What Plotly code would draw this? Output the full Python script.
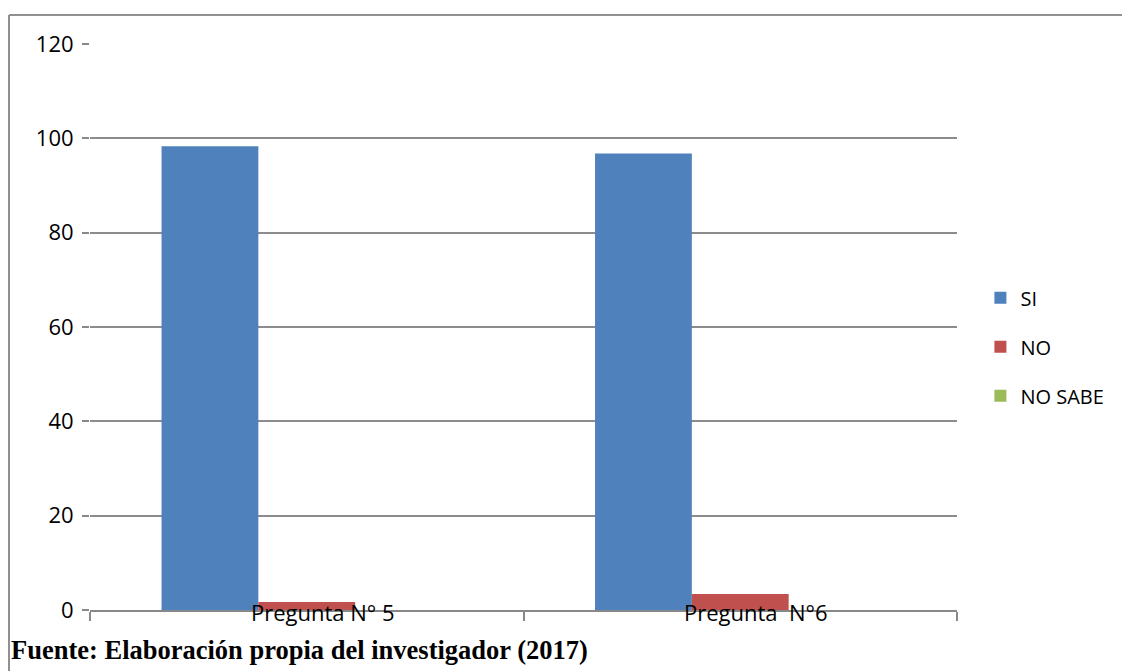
import plotly.graph_objects as go

categories = ["Pregunta N° 5", "Pregunta  N°6"]
series_names = ["SI", "NO", "NO SABE"]
si_values = [98.3, 96.8]
no_values = [1.7, 3.4]
nosabe_values = [0, 0]
colors = ["#4F81BD", "#C0504D", "#9BBB59"]
y_ticks = [0, 20, 40, 60, 80, 100, 120]
footer = "Fuente: Elaboración propia del investigador (2017)"

# page body has an 8px default margin; compensate in the figure size/margins
W, H = 1122, 663
L, T, PW, PH = 82, 36, 867, 566

x_idx = list(range(len(categories)))
fig = go.Figure()
for name, vals, col in zip(series_names, [si_values, no_values, nosabe_values], colors):
    fig.add_trace(go.Bar(x=x_idx, y=vals, name=name, legendgroup=name,
                         marker=dict(color=col, line=dict(width=0))))

for i, c in enumerate(categories):
    fig.add_annotation(x=i, y=0, xref="x", yref="y", text=c, showarrow=False,
                       xanchor="center", yanchor="middle", xshift=16, yshift=-2,
                       font=dict(family="Open Sans", size=22, color="#000000"))

fig.add_annotation(x=-(L - 1) / PW, y=-40 / PH, xref="paper", yref="paper",
                   xanchor="left", yanchor="middle",
                   text="<b>" + footer + "</b>", showarrow=False,
                   font=dict(family="Liberation Serif", size=26.5, color="#000000"))

fig.update_layout(
    width=W, height=H,
    margin=dict(l=L, r=W - L - PW, t=T, b=H - T - PH, autoexpand=False),
    paper_bgcolor="white", plot_bgcolor="white",
    barmode="group", bargap=0.33, bargroupgap=0,
    font=dict(family="Open Sans", size=20, color="#000000"),
    showlegend=True,
    legend=dict(x=1.027, y=0.586, xanchor="left", yanchor="top", tracegroupgap=20,
                font=dict(size=20), itemwidth=30, bgcolor="rgba(0,0,0,0)"),
    xaxis=dict(range=[-0.5, 1.5], tickvals=[-0.5, 0.5, 1.5], ticktext=["", "", ""],
               ticks="outside", ticklen=9, tickcolor="#888888", tickwidth=2,
               showline=True, linecolor="#888888", linewidth=2, showgrid=False, zeroline=False),
    yaxis=dict(range=[0, 120], tickvals=y_ticks, ticks="outside", ticklen=7,
               tickcolor="#888888", tickwidth=2, showgrid=True, gridcolor="#8c8c8c",
               gridwidth=2, showline=False, zeroline=False, ticklabelstandoff=4,
               tickfont=dict(size=22)),
    shapes=[
        dict(type="line", xref="paper", yref="paper", x0=-(L - 1) / PW, x1=1.3,
             y0=1 + (T - 7) / PH, y1=1 + (T - 7) / PH,
             line=dict(color="#909090", width=2)),
        dict(type="line", xref="paper", yref="paper", x0=-(L - 1) / PW, x1=-(L - 1) / PW,
             y0=1 + (T - 7) / PH, y1=-0.2,
             line=dict(color="#909090", width=2)),
    ],
)
fig.write_html("out.html")
